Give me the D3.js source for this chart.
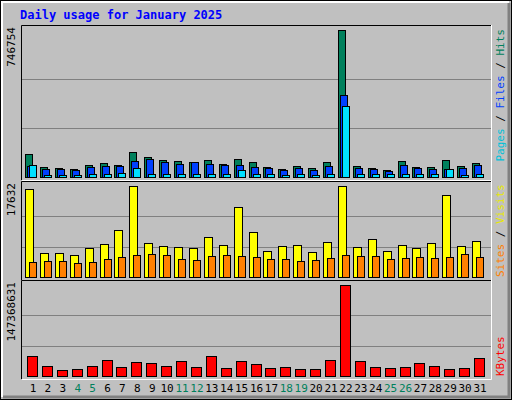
<!DOCTYPE html>
<html><head><meta charset="utf-8">
<script src="https://cdn.jsdelivr.net/npm/d3@7"></script>
<style>body{margin:0;background:#fff}svg{display:block}text{font-family:"DejaVu Sans Mono",monospace}</style>
</head><body>
<svg id="c" width="512" height="400"></svg>
<script>
// values
var days = d3.range(1, 32);
var weekends = [4, 5, 11, 12, 18, 19, 25, 26];
var hits = [117000, 51000, 46000, 41000, 61000, 71000, 61000, 127000, 102000, 86000, 81000, 76000, 86000, 66000, 91000, 76000, 51000, 41000, 56000, 46000, 76000, 746754, 56000, 46000, 36000, 81000, 51000, 51000, 86000, 56000, 71000];
var files = [56000, 41000, 41000, 36000, 51000, 56000, 56000, 81000, 91000, 76000, 66000, 76000, 66000, 61000, 61000, 51000, 46000, 36000, 46000, 36000, 56000, 417000, 46000, 41000, 30000, 61000, 46000, 41000, 41000, 46000, 61000];
var pages = [61000, 10000, 10000, 10000, 15000, 15000, 20000, 46000, 15000, 15000, 15000, 15000, 15000, 15000, 36000, 15000, 15000, 10000, 15000, 10000, 15000, 361000, 15000, 15000, 15000, 15000, 15000, 15000, 41000, 10000, 15000];
var visits = [17064, 4740, 4740, 4171, 5688, 6446, 9101, 17632, 6636, 6067, 5878, 5688, 7774, 6257, 13651, 8722, 5119, 6067, 6257, 4930, 6826, 17632, 5878, 7394, 5119, 6257, 5688, 6636, 15926, 6067, 7015];
var sites = [2844, 3034, 3034, 2654, 2844, 3413, 3792, 4171, 4550, 4171, 3413, 3223, 3982, 4171, 3982, 3792, 3413, 3413, 3034, 3223, 3602, 4171, 3982, 3982, 3413, 3602, 3792, 3602, 3792, 4361, 3792];
var kbytes = [32036000, 16018000, 9611000, 11213000, 16018000, 25629000, 14416000, 22425000, 20823000, 16018000, 24027000, 14416000, 32036000, 12814000, 24027000, 19222000, 12814000, 14416000, 11213000, 11213000, 25629000, 147368631, 24027000, 14416000, 12814000, 14416000, 20823000, 16018000, 11213000, 12814000, 28832000];

var svg = d3.select('#c');
var L = 21, R = 491;

// frame
svg.append('rect').attr('x', 0.5).attr('y', 0.5).attr('width', 511).attr('height', 399).attr('fill', '#c0c0c0').attr('stroke', '#000');
svg.append('path').attr('d', 'M2,397V2H509').attr('fill', 'none').attr('stroke', '#fff').attr('stroke-width', 2);
svg.append('path').attr('d', 'M3,397H509V3').attr('fill', 'none').attr('stroke', '#808080').attr('stroke-width', 3);

svg.append('text').attr('x', 20).attr('y', 19).attr('fill', '#0000ff').attr('font-size', 12).attr('font-weight', 'bold')
	.text('Daily usage for January 2025');

var x = d3.scaleLinear().domain([1, 31]).range([33, 480]);

function panel(top, bottom, max, series, label, fromTop) {
	var base = bottom - 3;
	var y = d3.scaleLinear().domain([0, max]).range([base, base - (bottom - top - 8)]);
	var g = svg.append('g');
	g.append('rect').attr('x', L).attr('y', top).attr('width', R - L).attr('height', bottom - top).attr('fill', '#c0c0c0');
	[1, 2].forEach(function (k) {
		var gy = Math.round(y(max * k / 3)) + 0.5;
		g.append('line').attr('x1', L).attr('x2', R).attr('y1', gy).attr('y2', gy).attr('stroke', '#808080');
	});
	g.append('path').attr('d', 'M' + (L + 0.5) + ',' + bottom + 'V' + (top + 0.5) + 'H' + R).attr('fill', 'none').attr('stroke', '#000');
	g.append('path').attr('d', 'M' + (L + 1) + ',' + (bottom + 0.5) + 'H' + (R + 0.5) + 'V' + top).attr('fill', 'none').attr('stroke', '#fff');
	series.forEach(function (s) {
		g.selectAll(null).data(s.data).enter().append('rect')
			.attr('x', function (d, i) { return Math.round(x(days[i])) + s.off + 0.5; })
			.attr('y', function (d) { return Math.round(y(d)) + 0.5; })
			.attr('width', s.w)
			.attr('height', function (d) { return Math.max(1, base - Math.round(y(d))); })
			.attr('fill', s.color).attr('stroke', '#000');
	});
	svg.append('text').attr('transform', 'translate(15,' + (top + 2) + ') rotate(-90)')
		.attr('text-anchor', 'end').attr('font-size', 11).text(max);
	var t = svg.append('text').attr('font-size', 11);
	if (fromTop) t.attr('transform', 'translate(504,' + (top + 4) + ') rotate(-90)').attr('text-anchor', 'end');
	else t.attr('transform', 'translate(504,' + (bottom - 3) + ') rotate(-90)');
	label.forEach(function (p) { t.append('tspan').attr('fill', p[1]).text(p[0]); });
}

panel(25, 180, 746754, [
	{ data: hits, color: '#00805c', off: -8, w: 7 },
	{ data: files, color: '#0040ff', off: -6, w: 7 },
	{ data: pages, color: '#00e0ff', off: -4, w: 7 }
], [['Pages', '#00c0d8'], [' / ', '#000'], ['Files', '#0040ff'], [' / ', '#000'], ['Hits', '#00805c']], true);

panel(181, 280, 17632, [
	{ data: visits, color: '#ffff00', off: -8, w: 8 },
	{ data: sites, color: '#ff8000', off: -4, w: 7 }
], [['Sites', '#ff8000'], [' / ', '#000'], ['Visits', '#e8e800']]);

panel(280, 379, 147368631, [
	{ data: kbytes, color: '#ff0000', off: -6, w: 10 }
], [['KBytes', '#ff0000']]);

svg.selectAll('.day').data(days).enter().append('text')
	.attr('x', function (d) { return x(d); }).attr('y', 392)
	.attr('text-anchor', 'middle').attr('font-size', 11)
	.attr('fill', function (d) { return weekends.indexOf(d) >= 0 ? '#00805c' : '#000'; })
	.text(function (d) { return d; });
</script>
</body></html>
